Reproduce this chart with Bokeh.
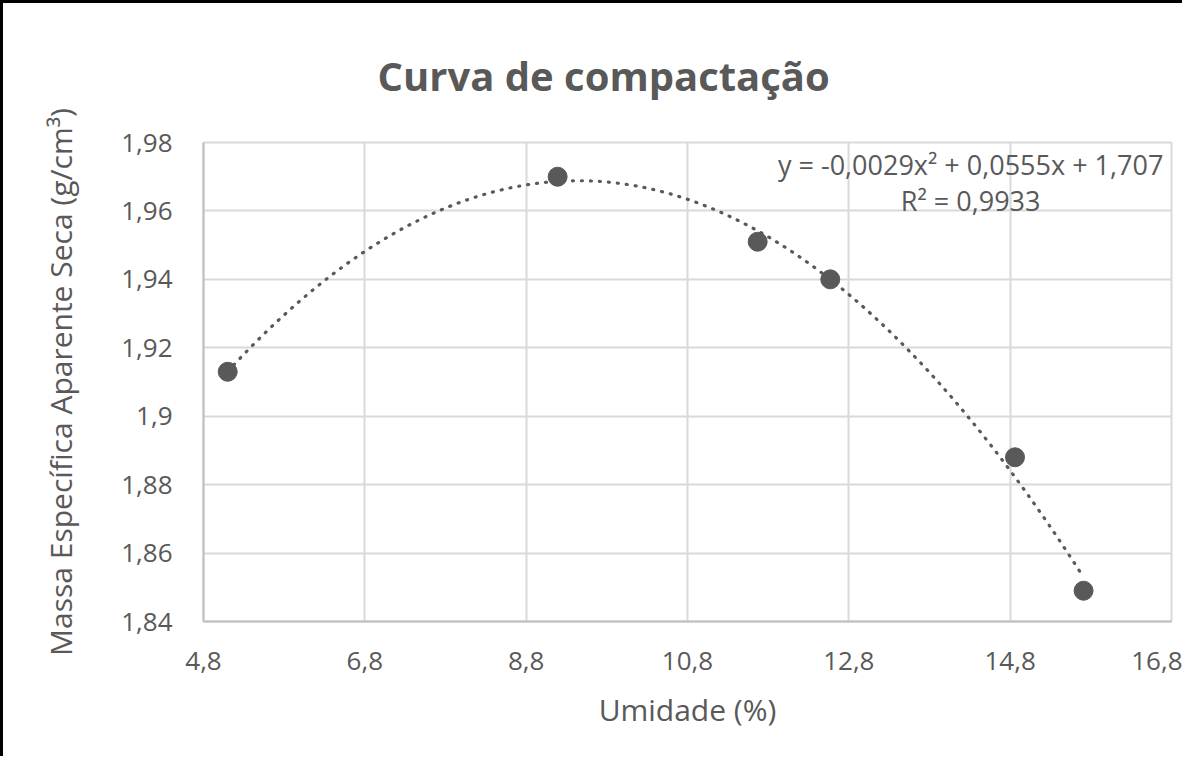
import numpy as np
from bokeh.plotting import figure
from bokeh.models import Range1d, FixedTicker, Label
from bokeh.embed import file_html
from bokeh.resources import INLINE

# ---- data ----
umidade = [5.10, 9.19, 11.67, 12.57, 14.86, 15.71]
massa = [1.913, 1.970, 1.951, 1.940, 1.888, 1.849]

x_ticks = [4.8, 6.8, 8.8, 10.8, 12.8, 14.8, 16.8]
x_tick_labels = ["4,8", "6,8", "8,8", "10,8", "12,8", "14,8", "16,8"]
y_ticks = [1.84, 1.86, 1.88, 1.90, 1.92, 1.94, 1.96, 1.98]
y_tick_labels = ["1,84", "1,86", "1,88", "1,9", "1,92", "1,94", "1,96", "1,98"]

title_text = "Curva de compactação"
x_label = "Umidade (%)"
y_label = "Massa Específica Aparente Seca (g/cm³)"
equation_text = "y = -0,0029x² + 0,0555x + 1,707"
r2_text = "R² = 0,9933"

# polynomial trendline (order 2) fitted to the data, as Excel does
coef = np.polyfit(umidade, massa, 2)
trend_x = np.linspace(min(umidade), max(umidade), 200)
trend_y = np.polyval(coef, trend_x)

FONT = "Open Sans"
GREY = "#595959"

p = figure(
    width=1182, height=756,
    x_range=Range1d(4.8, 16.8), y_range=Range1d(1.84, 1.98),
    output_backend="svg", toolbar_location=None,
    min_border_left=200, min_border_right=14,
    min_border_top=139, min_border_bottom=138,
)
p.styles = {"border-left": "3px solid #000000", "border-top": "3px solid #000000"}

# title
p.title.text = title_text
p.title.text_font = FONT
p.title.text_font_size = "40px"
p.title.text_font_style = "bold"
p.title.text_color = GREY
p.title.align = "left"
p.title.offset = 174
p.title.standoff = 80

# axes
for ax in (p.xaxis[0], p.yaxis[0]):
    ax.major_tick_line_color = None
    ax.minor_tick_line_color = None
    ax.major_tick_out = 0
    ax.major_tick_in = 0
    ax.axis_line_color = "#bfbfbf"
    ax.axis_line_width = 2
    ax.major_label_text_font = FONT
    ax.major_label_text_font_size = "26px"
    ax.major_label_text_color = GREY
    ax.axis_label_text_font = FONT
    ax.axis_label_text_font_size = "30px"
    ax.axis_label_text_font_style = "normal"
    ax.axis_label_text_color = GREY

p.xaxis.ticker = FixedTicker(ticks=x_ticks)
p.xaxis.major_label_overrides = dict(zip(x_ticks, x_tick_labels))
p.xaxis.axis_label = x_label
p.xaxis.major_label_standoff = 30
p.xaxis.axis_label_standoff = 16

p.yaxis.ticker = FixedTicker(ticks=y_ticks)
p.yaxis.major_label_overrides = dict(zip(y_ticks, y_tick_labels))
p.yaxis.axis_label = y_label
p.yaxis.major_label_standoff = 31
p.yaxis.axis_label_standoff = 37

# grid
p.xgrid.ticker = FixedTicker(ticks=x_ticks)
p.ygrid.ticker = FixedTicker(ticks=y_ticks)
p.grid.grid_line_color = "#d9d9d9"
p.grid.grid_line_width = 2
p.outline_line_color = "#d9d9d9"
p.outline_line_width = 2
p.background_fill_color = "white"
p.border_fill_color = "white"

# trendline
p.line(trend_x, trend_y, line_color=GREY, line_width=3.2,
       line_dash="1 8", line_cap="round")

# points
p.scatter(umidade, massa, size=19, fill_color=GREY, line_color=GREY)

# trendline equation
p.add_layout(Label(x=14.31, y=1.9736, text=equation_text, text_align="center",
                   text_baseline="middle", text_font=FONT, text_font_size="27px",
                   text_color=GREY))
p.add_layout(Label(x=14.31, y=1.9631, text=r2_text, text_align="center",
                   text_baseline="middle", text_font=FONT, text_font_size="27px",
                   text_color=GREY))

open("out.html", "w").write(file_html(p, INLINE))
